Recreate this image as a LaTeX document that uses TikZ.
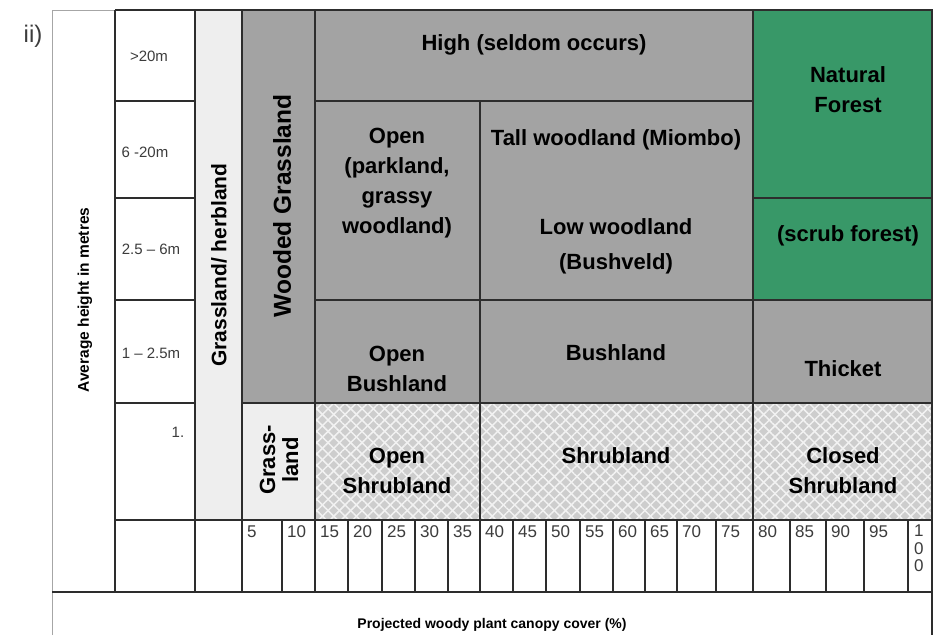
\documentclass[tikz,border=0pt]{standalone}
\usepackage{fontspec}
\setmainfont{Liberation Sans}
\usetikzlibrary{patterns.meta}
\definecolor{cellgray}{RGB}{163,163,163}
\definecolor{palegray}{RGB}{238,238,238}
\definecolor{hatchgray}{RGB}{205,205,205}
\definecolor{forest}{RGB}{56,152,104}
\definecolor{rule}{RGB}{45,45,45}
\definecolor{ink}{RGB}{60,60,60}

\begin{document}
\begin{tikzpicture}[x=1pt,y=-1pt,
  grid/.style={draw=rule,line width=1.3pt},
  lab/.style={font=\bfseries\fontsize{22}{30}\selectfont,align=center,inner sep=0pt},
  num/.style={font=\fontsize{17}{17.5}\selectfont,text=ink,anchor=north west,inner sep=0pt,text height=12.5pt,text depth=0pt},
  hgt/.style={font=\fontsize{15}{18}\selectfont,text=ink,inner sep=0pt}]
\useasboundingbox (0,0) rectangle (934,635);
\fill[white] (0,0) rectangle (934,635);
\fill[palegray] (195,10) rectangle (242,520);
\fill[cellgray] (242,10) rectangle (753,403);
\fill[palegray] (242,403) rectangle (315,520);
\fill[forest] (753,10) rectangle (932,300);
\fill[cellgray] (753,300) rectangle (932,403);
\fill[hatchgray] (315,403) rectangle (932,520);
\fill[pattern={Lines[angle=45,distance=8pt,line width=1.5pt]},pattern color=white!90!gray] (315,403) rectangle (932,520);
\fill[pattern={Lines[angle=-45,distance=8pt,line width=1.5pt]},pattern color=white!90!gray] (315,403) rectangle (932,520);
\draw[gray!70,line width=1pt] (52,635) -- (52,10) -- (115,10);
\draw[grid] (115,10) -- (932,10) -- (932,635);
\draw[grid] (52,592) -- (932,592);
\draw[grid] (115,520) -- (932,520);
\draw[grid] (115,101) -- (195,101) (315,101) -- (753,101);
\draw[grid] (115,198) -- (195,198) (753,198) -- (932,198);
\draw[grid] (115,300) -- (195,300) (315,300) -- (932,300);
\draw[grid] (115,403) -- (195,403) (242,403) -- (932,403);
\foreach \x in {115,195,242,315,753}
  \draw[grid] (\x,10) -- (\x,592);
\draw[grid] (480,101) -- (480,592);
\foreach \x in {282,348,382,415,448,513,546,580,613,645,677,716,790,826,864,908}
  \draw[grid] (\x,520) -- (\x,592);

\node[font=\fontsize{24}{26}\selectfont,text=ink] (part) at (33,36) {ii)};
\node[font=\bfseries\fontsize{15.5}{18}\selectfont,rotate=90] (avg) at (85,300) {Average height in metres};
\node[hgt] (h1) at (149,56) {>20m};
\node[hgt] (h2) at (145,152) {6 -20m};
\node[hgt] (h3) at (151,249) {2.5 -- 6m};
\node[hgt] (h4) at (151,353) {1 -- 2.5m};
\node[hgt] (h5) at (178,432) {1.};
\node[lab,rotate=90,font=\bfseries\fontsize{21}{24}\selectfont] (herb) at (219,265) {Grassland/ herbland};
\node[lab,rotate=90,font=\bfseries\fontsize{24.5}{28}\selectfont] (wooded) at (282,206) {Wooded Grassland};
\node[lab,rotate=90,font=\bfseries\fontsize{22}{23}\selectfont] (grass) at (279,460) {Grass-\\land};
\node[lab] (high) at (534,45) {High (seldom occurs)};
\node[lab] (open) at (397,183) {Open\\(parkland,\\grassy\\woodland)};
\node[lab] (tall) at (616,140) {Tall woodland (Miombo)};
\node[lab,font=\bfseries\fontsize{22}{35}\selectfont] (low) at (616,246) {Low woodland\\(Bushveld)};
\node[lab] (natural) at (848,90) {Natural\\Forest};
\node[lab] (scrub) at (848,236) {(scrub forest)};
\node[lab] (openbush) at (397,369) {Open\\Bushland};
\node[lab] (bush) at (616,353) {Bushland};
\node[lab] (thicket) at (843,369) {Thicket};
\node[lab] (openshrub) at (397,471) {Open\\Shrubland};
\node[lab] (shrub) at (616,456) {Shrubland};
\node[lab] (closedshrub) at (843,471) {Closed\\Shrubland};
\foreach \x/\v in {242/5,282/10,315/15,348/20,382/25,415/30,448/35,480/40,513/45,546/50,580/55,613/60,645/65,677/70,716/75,753/80,790/85,826/90,864/95}
  \node[num] (n\v) at (\x+5,525) {\v};
\node[font=\fontsize{17}{17.5}\selectfont,text=ink,anchor=north west,inner sep=0pt,align=center] (n100) at (914,525) {1\\0\\0};
\node[font=\bfseries\fontsize{14}{16}\selectfont] (canopy) at (492,625) {Projected woody plant canopy cover (\%)};
\end{tikzpicture}
\end{document}
